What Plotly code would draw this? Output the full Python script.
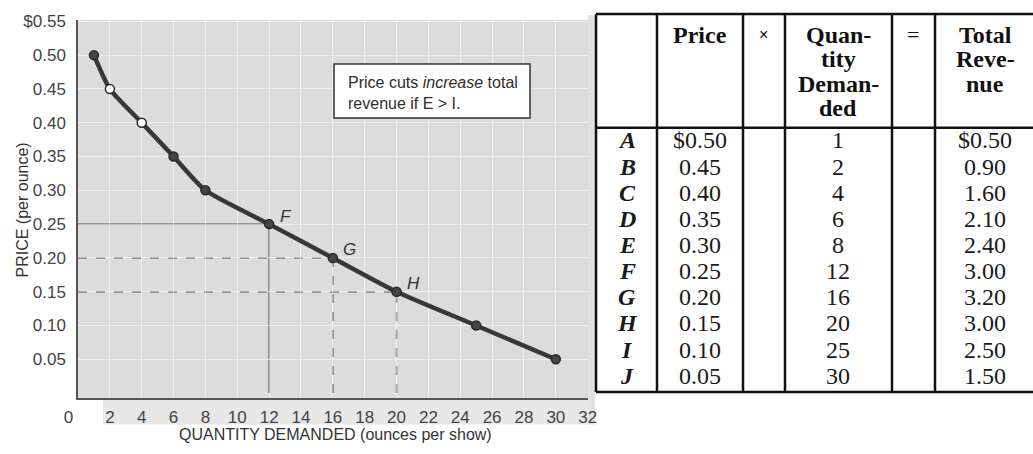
import plotly.graph_objects as go

# ---------------- data ----------------
row_labels = ["A", "B", "C", "D", "E", "F", "G", "H", "I", "J"]
price = [0.50, 0.45, 0.40, 0.35, 0.30, 0.25, 0.20, 0.15, 0.10, 0.05]
quantity = [1, 2, 4, 6, 8, 12, 16, 20, 25, 30]
revenue = [0.50, 0.90, 1.60, 2.10, 2.40, 3.00, 3.20, 3.00, 2.50, 1.50]
open_points = ["B", "C"]
solid_guides = ["F"]
dashed_guides = ["G", "H"]
x_tickvals = [0, 2, 4, 6, 8, 10, 12, 14, 16, 18, 20, 22, 24, 26, 28, 30, 32]
x_ticktext = ["0\u00a0\u00a0\u00a0\u00a0", "2", "4", "6", "8", "10", "12", "14", "16", "18",
              "20", "22", "24", "26", "28", "30", "32"]
y_tickvals = [0.05, 0.10, 0.15, 0.20, 0.25, 0.30, 0.35, 0.40, 0.45, 0.50, 0.55]
y_ticktext = ["0.05", "0.10", "0.15", "0.20", "0.25", "0.30", "0.35", "0.40", "0.45", "0.50", "$0.55"]
header_cols = [[], ["Price"], ["×"], ["Quan-", "tity", "Deman-", "ded"], ["="], ["Total", "Reve-", "nue"]]
note_text = "Price cuts <i>increase</i> total<br>revenue if E &gt; I."
x_title = "QUANTITY DEMANDED (ounces per show)"
y_title = "PRICE (per ounce)"

# ---------------- layout helpers ----------------
W, H = 1033, 454
PL, PR, PT, PB = 78, 588, 12, 398


def xp(px):
    return (px - PL) / (PR - PL)


def yp(py):
    return (PB - py) / (PB - PT)


SANS = "Liberation Sans, Arial, Helvetica, sans-serif"
SERIF = "Liberation Serif, Times New Roman, serif"
INK = "#383838"

fig = go.Figure()

# demand curve
fill_colors = ["white" if lab in open_points else "#454545" for lab in row_labels]
fig.add_trace(go.Scatter(
    x=quantity, y=price, mode="lines+markers",
    line=dict(color=INK, width=4.5, shape="spline", smoothing=0.6),
    marker=dict(size=9, color=fill_colors, line=dict(color="#2a2a2a", width=1.5)),
    hoverinfo="skip", showlegend=False,
))

shapes = []
annotations = []

# guide lines + point labels
for lab, q, p in zip(row_labels, quantity, price):
    if lab in solid_guides or lab in dashed_guides:
        dash = "solid" if lab in solid_guides else "dash"
        ln = dict(color="#4a4a4a", width=1.4, dash=dash)
        shapes.append(dict(type="line", xref="x", yref="y", x0=0, x1=q, y0=p, y1=p,
                           line=ln, layer="below"))
        shapes.append(dict(type="line", xref="x", yref="y", x0=q, x1=q, y0=0, y1=p,
                           line=ln, layer="below"))
        annotations.append(dict(x=q, y=p, xref="x", yref="y", text=f"<i>{lab}</i>",
                                showarrow=False, xanchor="center", yanchor="middle",
                                xshift=17, yshift=8,
                                font=dict(family=SANS, size=17, color="#333")))

# scanned gray paper outside the plot area
shapes.append(dict(type="rect", xref="paper", yref="paper",
                   x0=xp(103), x1=xp(595), y0=yp(425), y1=yp(398),
                   fillcolor="#e7e7e7", line=dict(width=0), layer="below"))
shapes.append(dict(type="rect", xref="paper", yref="paper",
                   x0=xp(588), x1=xp(595), y0=yp(425), y1=yp(7),
                   fillcolor="#e2e2e2", line=dict(width=0), layer="below"))

# note box
shapes.append(dict(type="rect", xref="paper", yref="paper",
                   x0=xp(334), x1=xp(530), y0=yp(112), y1=yp(57),
                   fillcolor="white", line=dict(color="#333", width=1.5)))
annotations.append(dict(x=xp(346), y=yp(87), xref="paper", yref="paper",
                        text=note_text, showarrow=False, xanchor="left", yanchor="middle",
                        align="left", font=dict(family=SANS, size=16, color="#2e2e2e")))

# axis titles
annotations.append(dict(x=xp(335), y=yp(446), xref="paper", yref="paper", text=x_title,
                        showarrow=False, font=dict(family=SANS, size=16, color="#333")))
annotations.append(dict(x=xp(12), y=yp(206), xref="paper", yref="paper", text=y_title,
                        textangle=-90, showarrow=False,
                        font=dict(family=SANS, size=16, color="#333")))

# ---------------- table ----------------
T_TOP, T_HEAD, T_BOT = 6, 122, 392
v_lines = [596, 657, 743, 785, 892, 935]
col_centers = [627, 700, 763, 838, 913, 985]
LINE = dict(color="#111", width=2.5)
for y in (T_TOP, T_HEAD, T_BOT):
    shapes.append(dict(type="line", xref="paper", yref="paper",
                       x0=xp(596), x1=xp(1034), y0=yp(y), y1=yp(y), line=LINE))
for x in v_lines:
    shapes.append(dict(type="line", xref="paper", yref="paper",
                       x0=xp(x), x1=xp(x), y0=yp(T_TOP), y1=yp(T_BOT), line=LINE))

HEAD_Y0, HEAD_STEP = 27, 25
for cx, lines in zip(col_centers, header_cols):
    for j, txt in enumerate(lines):
        sym = txt in ("×", "=")
        annotations.append(dict(
            x=xp(cx), y=yp(HEAD_Y0 + j * HEAD_STEP), xref="paper", yref="paper",
            text=txt if sym else f"<b>{txt}</b>", showarrow=False,
            xanchor="center", yanchor="middle",
            font=dict(family=SANS if txt == "×" else SERIF,
                      size=16 if txt == "×" else (22 if sym else 24), color="#111")))

ROW0, ROWSTEP = 135, 26.7
for i, (lab, p, q, r) in enumerate(zip(row_labels, price, quantity, revenue)):
    yy = yp(ROW0 + i * ROWSTEP)
    ptxt = f"${p:.2f}" if i == 0 else f"{p:.2f}"
    rtxt = f"${r:.2f}" if i == 0 else f"{r:.2f}"
    cells = [(col_centers[0], f"<b><i>{lab}</i></b>"), (col_centers[1], ptxt),
             (col_centers[3], str(q)), (col_centers[5], rtxt)]
    for cx, t in cells:
        annotations.append(dict(x=xp(cx), y=yy, xref="paper", yref="paper", text=t,
                                showarrow=False, xanchor="center", yanchor="middle",
                                font=dict(family=SERIF, size=24, color="#1a1a1a")))

fig.update_layout(
    width=W, height=H,
    margin=dict(l=PL, r=W - PR, t=PT, b=H - PB, pad=0),
    paper_bgcolor="white", plot_bgcolor="#dcdcdc",
    shapes=shapes, annotations=annotations,
    xaxis=dict(range=[0, 32.02], tickvals=x_tickvals, ticktext=x_ticktext, ticks="",
               showline=True, linecolor="#555", linewidth=1.5, mirror=False, zeroline=False,
               showgrid=True, gridcolor="rgba(255,255,255,0.55)", gridwidth=1,
               tickfont=dict(family=SANS, size=17, color="#444"), ticklabelstandoff=3),
    yaxis=dict(range=[-0.00725, 0.552], tickvals=y_tickvals, ticktext=y_ticktext, ticks="",
               showline=True, linecolor="#555", linewidth=1.5, zeroline=False,
               showgrid=True, gridcolor="rgba(255,255,255,0.55)", gridwidth=1,
               tickfont=dict(family=SANS, size=17, color="#444"), ticklabelstandoff=7),
)

fig.write_html("out.html", config={"displayModeBar": False},
               post_script="document.body.style.margin='0';")
